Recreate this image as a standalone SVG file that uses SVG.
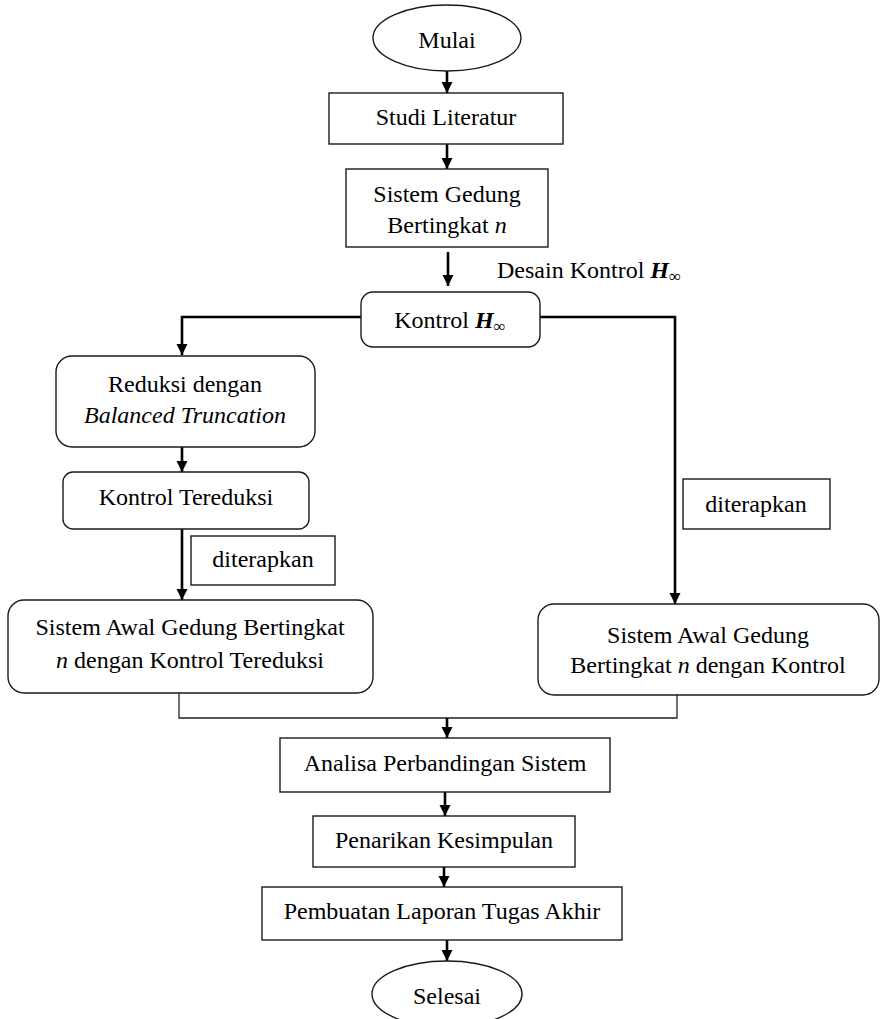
<svg xmlns="http://www.w3.org/2000/svg" width="880" height="1019" viewBox="0 0 880 1019">
<style>
.box{fill:#fff;stroke:#1a1a1a;stroke-width:1.4}
.t{font-family:"Liberation Serif","Times New Roman",serif;font-size:24px;fill:#000;text-anchor:middle}
.i{font-style:italic}
.c{fill:none;stroke:#000;stroke-width:2.6}
.thin{fill:none;stroke:#222;stroke-width:1.3}
</style>
<defs>
<marker id="ah" viewBox="0 0 10 10" refX="10" refY="5" markerWidth="11" markerHeight="13" markerUnits="userSpaceOnUse" orient="auto">
<path d="M0,0 L10,5 L0,10 z" fill="#000"/>
</marker>
</defs>
<rect width="880" height="1019" fill="#fff"/>
<g id="connectors">
<line class="c" x1="447" y1="71" x2="447" y2="93" marker-end="url(#ah)"/>
<line class="c" x1="447" y1="144" x2="447" y2="169" marker-end="url(#ah)"/>
<line class="c" x1="448" y1="252" x2="448" y2="286" marker-end="url(#ah)"/>
<polyline class="c" points="361,317 182,317 182,355" marker-end="url(#ah)"/>
<polyline class="c" points="540,317 675,317 675,604" marker-end="url(#ah)"/>
<line class="c" x1="182" y1="447" x2="182" y2="472" marker-end="url(#ah)"/>
<line class="c" x1="182" y1="529" x2="182" y2="600" marker-end="url(#ah)"/>
<polyline class="thin" points="179,693 179,718 677,718 677,695"/>
<line class="c" x1="447" y1="718" x2="447" y2="738" marker-end="url(#ah)"/>
<line class="c" x1="445" y1="792" x2="445" y2="816" marker-end="url(#ah)"/>
<line class="c" x1="444" y1="867" x2="444" y2="887" marker-end="url(#ah)"/>
<line class="c" x1="447" y1="940" x2="447" y2="961" marker-end="url(#ah)"/>
</g>
<g id="mulai">
<ellipse class="box" cx="447" cy="38" rx="74" ry="33"/>
<text class="t" x="447" y="48">Mulai</text>
</g>
<g id="studi">
<rect class="box" x="329" y="93" width="234" height="51"/>
<text class="t" x="446" y="125">Studi Literatur</text>
</g>
<g id="sistem-gedung">
<rect class="box" x="346" y="169" width="202" height="78"/>
<text class="t" x="447" y="202">Sistem Gedung</text>
<text class="t" x="447" y="233">Bertingkat <tspan class="i">n</tspan></text>
</g>
<g id="desain-label">
<text class="t" x="497" y="278" style="text-anchor:start">Desain Kontrol <tspan font-weight="bold" font-style="italic">H</tspan><tspan font-size="17" dy="4">∞</tspan></text>
</g>
<g id="kontrol-h">
<rect class="box" x="361" y="292" width="179" height="55" rx="12"/>
<text class="t" x="450" y="328">Kontrol <tspan font-weight="bold" font-style="italic">H</tspan><tspan font-size="17" dy="4">∞</tspan></text>
</g>
<g id="reduksi">
<rect class="box" x="56" y="356" width="259" height="91" rx="16"/>
<text class="t" x="185" y="392">Reduksi dengan</text>
<text class="t i" x="185" y="423">Balanced Truncation</text>
</g>
<g id="kontrol-tereduksi">
<rect class="box" x="63" y="472" width="246" height="57" rx="10"/>
<text class="t" x="186" y="505">Kontrol Tereduksi</text>
</g>
<g id="diterapkan-left">
<rect class="box" x="191" y="536" width="144" height="49"/>
<text class="t" x="263" y="567">diterapkan</text>
</g>
<g id="sistem-awal-left">
<rect class="box" x="8" y="600" width="365" height="93" rx="16"/>
<text class="t" x="190" y="635">Sistem Awal Gedung Bertingkat</text>
<text class="t" x="190" y="668"><tspan class="i">n</tspan> dengan Kontrol Tereduksi</text>
</g>
<g id="diterapkan-right">
<rect class="box" x="683" y="479" width="147" height="50"/>
<text class="t" x="756" y="512">diterapkan</text>
</g>
<g id="sistem-awal-right">
<rect class="box" x="538" y="604" width="341" height="91" rx="16"/>
<text class="t" x="708" y="643">Sistem Awal Gedung</text>
<text class="t" x="708" y="673">Bertingkat <tspan class="i">n</tspan> dengan Kontrol</text>
</g>
<g id="analisa">
<rect class="box" x="280" y="738" width="330" height="54"/>
<text class="t" x="445" y="771">Analisa Perbandingan Sistem</text>
</g>
<g id="penarikan">
<rect class="box" x="313" y="816" width="262" height="51"/>
<text class="t" x="444" y="848">Penarikan Kesimpulan</text>
</g>
<g id="pembuatan">
<rect class="box" x="262" y="887" width="360" height="53"/>
<text class="t" x="442" y="919">Pembuatan Laporan Tugas Akhir</text>
</g>
<g id="selesai">
<ellipse class="box" cx="447" cy="994" rx="75" ry="33"/>
<text class="t" x="447" y="1004">Selesai</text>
</g>
</svg>
